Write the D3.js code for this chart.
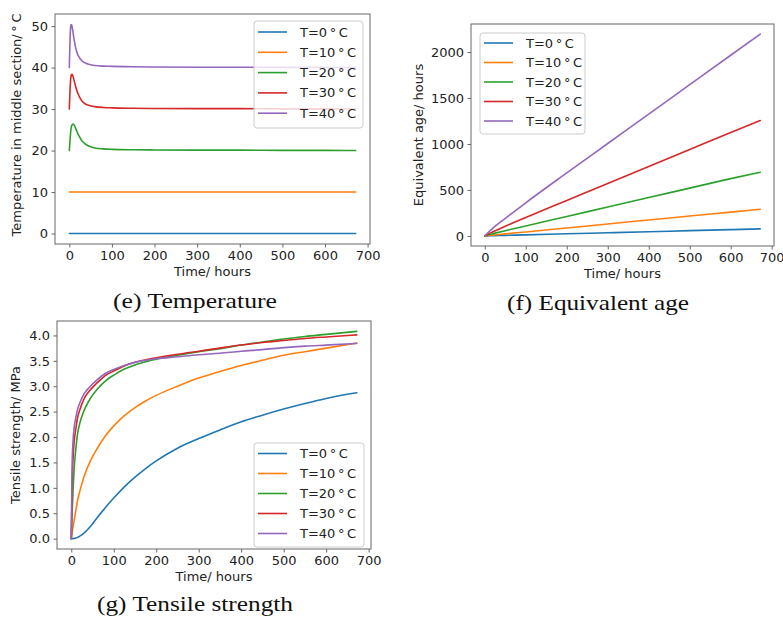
<!DOCTYPE html>
<html><head><meta charset="utf-8">
<script src="https://cdn.jsdelivr.net/npm/d3@7"></script>
<style>
body{margin:0;background:#fff;}
svg{display:block;}
</style></head>
<body>
<svg id="c" width="783" height="621"></svg>
<script>
// ---------- data ----------
const seriesNames = ["T=0\u2009°\u2009C","T=10\u2009°\u2009C","T=20\u2009°\u2009C","T=30\u2009°\u2009C","T=40\u2009°\u2009C"];
const colors = ["#1f77b4","#ff7f0e","#2ca02c","#d62728","#9467bd"];
const xTicks = [0,100,200,300,400,500,600,700];

// (e) temperature in middle section
const tE = [0,1,2,3,4,5,6,8,10,12,15,20,25,30,40,50,60,80,100,150,200,300,400,500,600,672];
const tempT0  = tE.map(() => 0);
const tempT10 = tE.map(() => 10);
const tempT20 = [20,21.5,23,24.3,25.2,25.8,26.1,26.4,26.3,26.0,25.3,24.1,23.1,22.3,21.4,20.9,20.6,20.4,20.3,20.2,20.15,20.1,20.1,20.05,20.05,20.0];
const tempT30 = [30,32.8,35.3,37.0,37.9,38.3,38.4,38.1,37.4,36.6,35.4,33.8,32.7,31.9,31.1,30.8,30.6,30.4,30.3,30.2,30.15,30.1,30.1,30.05,30.05,30.0];
const tempT40 = [40,44.2,47.8,49.6,50.3,50.4,50.1,49.0,47.6,46.3,44.7,43.1,42.2,41.6,41.0,40.7,40.5,40.35,40.3,40.2,40.15,40.1,40.1,40.05,40.05,40.0];
const yTicksE = [0,10,20,30,40,50];

// (f) equivalent age
const tF = [0,10,20,50,100,200,300,400,500,600,672];
const ageT0  = [0,1,2,6,11,23,34,45,57,68,76];
const ageT10 = [0,4,9,22,43,86,130,173,216,259,290];
const ageT20 = [0,14,25,57,108,211,314,417,520,623,693];
const ageT30 = [0,25,45,105,200,385,570,755,940,1125,1255];
const ageT40 = [0,45,85,190,360,685,1005,1325,1645,1965,2195];
const yTicksF = [0,500,1000,1500,2000];

// (g) tensile strength
const tG = [0,2,4,7,10,15,20,30,45,60,80,100,125,150,175,200,250,300,350,400,450,500,550,600,672];
const strT0  = [0,0,0,0.005,0.01,0.025,0.05,0.11,0.24,0.40,0.61,0.80,1.02,1.21,1.38,1.53,1.78,1.97,2.14,2.30,2.43,2.55,2.66,2.76,2.87];
const strT10 = [0,0.11,0.22,0.37,0.52,0.76,0.93,1.22,1.53,1.76,2.02,2.22,2.42,2.58,2.71,2.82,3.00,3.16,3.29,3.41,3.51,3.61,3.68,3.75,3.85];
const strT20 = [0,0.5,0.9,1.41,1.7,2.07,2.27,2.52,2.76,2.93,3.10,3.22,3.34,3.42,3.48,3.53,3.61,3.68,3.74,3.81,3.87,3.93,3.98,4.02,4.08];
const strT30 = [0,1.1,1.55,1.93,2.12,2.39,2.53,2.75,2.93,3.06,3.21,3.30,3.40,3.47,3.52,3.56,3.63,3.69,3.75,3.81,3.86,3.90,3.94,3.97,4.01];
const strT40 = [0,1.45,1.9,2.2,2.35,2.55,2.67,2.85,3.0,3.12,3.25,3.33,3.41,3.47,3.51,3.54,3.58,3.62,3.65,3.69,3.72,3.76,3.79,3.81,3.84];
const yTicksG = [0,0.5,1.0,1.5,2.0,2.5,3.0,3.5,4.0];

const captions = ["(e) Temperature","(f) Equivalent age","(g) Tensile strength"];

// ---------- drawing ----------
const svg = d3.select("#c");
const FONT = "DejaVu Sans, sans-serif";

function panel(cfg){
  const {left,top,right,bottom,xDom,yDom,yTicks,yFmt,ts,series,ylabel,legend} = cfg;
  const x = d3.scaleLinear().domain(xDom).range([left,right]);
  const y = d3.scaleLinear().domain(yDom).range([bottom,top]);
  const g = svg.append("g");
  const clipId = "clip"+Math.round(left)+"_"+Math.round(top);
  svg.append("clipPath").attr("id",clipId).append("rect")
    .attr("x",left).attr("y",top).attr("width",right-left).attr("height",bottom-top);

  const line = d3.line().x(d=>x(d[0])).y(d=>y(d[1])).curve(d3.curveMonotoneX);
  const lg = g.append("g").attr("clip-path",`url(#${clipId})`);
  series.forEach((vals,i)=>{
    lg.append("path").datum(ts.map((t,j)=>[t,vals[j]]))
      .attr("d",line).attr("fill","none").attr("stroke",colors[i])
      .attr("stroke-width",1.6).attr("stroke-linejoin","round").attr("stroke-linecap","round");
  });

  const xa = g.append("g").attr("transform",`translate(0,${bottom})`)
    .call(d3.axisBottom(x).tickValues(xTicks).tickSize(3.5).tickSizeOuter(0).tickPadding(3.5).tickFormat(d3.format("d")));
  const ya = g.append("g").attr("transform",`translate(${left},0)`)
    .call(d3.axisLeft(y).tickValues(yTicks).tickSize(3.5).tickSizeOuter(0).tickPadding(3.5).tickFormat(yFmt));
  [xa,ya].forEach(a=>{
    a.select(".domain").remove();
    a.selectAll("line").attr("stroke","#555").attr("stroke-width",0.9);
    a.selectAll("text").attr("font-family",FONT).attr("font-size",13).attr("fill","#222");
  });
  g.append("rect").attr("x",left).attr("y",top).attr("width",right-left).attr("height",bottom-top)
    .attr("fill","none").attr("stroke","#666").attr("stroke-width",1);

  g.append("text").attr("x",(left+right)/2 + cfg.xlabelDx).attr("y",bottom+32)
    .attr("text-anchor","middle").attr("font-family",FONT).attr("font-size",13).attr("fill","#222")
    .text("Time/ hours");
  g.append("text").attr("transform",`translate(${cfg.ylabelX},${(top+bottom)/2 + (cfg.ylabelDy||0)}) rotate(-90)`)
    .attr("text-anchor","middle").attr("font-family",FONT).attr("font-size",13).attr("fill","#222")
    .text(ylabel);

  // legend
  const L = legend;
  const lgd = g.append("g");
  lgd.append("rect").attr("x",L.x).attr("y",L.y).attr("width",L.w).attr("height",L.h)
    .attr("rx",3).attr("fill","#fff").attr("fill-opacity",0.8).attr("stroke","#ccc").attr("stroke-width",1);
  seriesNames.forEach((n,i)=>{
    const yy = L.row0 + i*L.step;
    lgd.append("line").attr("x1",L.x+4).attr("x2",L.x+33).attr("y1",yy).attr("y2",yy)
      .attr("stroke",colors[i]).attr("stroke-width",1.6);
    lgd.append("text").attr("x",L.x+46).attr("y",yy+4.5).attr("font-family",FONT).attr("font-size",13)
      .attr("fill","#222").text(n);
  });
}

panel({left:55,top:14,right:370,bottom:244,xDom:[-33.6,705.6],yDom:[-2.52,52.92],
  yTicks:yTicksE,yFmt:d3.format("d"),ts:tE,series:[tempT0,tempT10,tempT20,tempT30,tempT40],
  ylabel:"Temperature in middle section/\u2009°\u2009C",ylabelX:21,ylabelDy:-4,xlabelDx:0,
  legend:{x:254,y:21,w:109,h:107,row0:32,step:20.3}});

panel({left:471,top:24,right:774,bottom:246,xDom:[-33.6,705.6],yDom:[-109.75,2304.75],
  yTicks:yTicksF,yFmt:d3.format("d"),ts:tF,series:[ageT0,ageT10,ageT20,ageT30,ageT40],
  ylabel:"Equivalent age/ hours",ylabelX:423,xlabelDx:0,
  legend:{x:480,y:33,w:105,h:101,row0:43,step:19.5}});

panel({left:57,top:321,right:371,bottom:549,xDom:[-33.6,705.6],yDom:[-0.204,4.284],
  yTicks:yTicksG,yFmt:d3.format(".1f"),ts:tG,series:[strT0,strT10,strT20,strT30,strT40],
  ylabel:"Tensile strength/ MPa",ylabelX:20,xlabelDx:0,
  legend:{x:254,y:443,w:110,h:104,row0:453.5,step:20}});

// captions
const capPos = [[195,307.5,164],[598,310,182],[195,610.5,196]];
captions.forEach((c,i)=>{
  svg.append("text").attr("x",capPos[i][0]).attr("y",capPos[i][1]).attr("text-anchor","middle")
    .attr("font-family","Liberation Serif, Times New Roman, serif").attr("font-size",22)
    .attr("textLength",capPos[i][2]).attr("lengthAdjust","spacingAndGlyphs")
    .attr("fill","#111").text(c);
});
</script>
</body></html>
